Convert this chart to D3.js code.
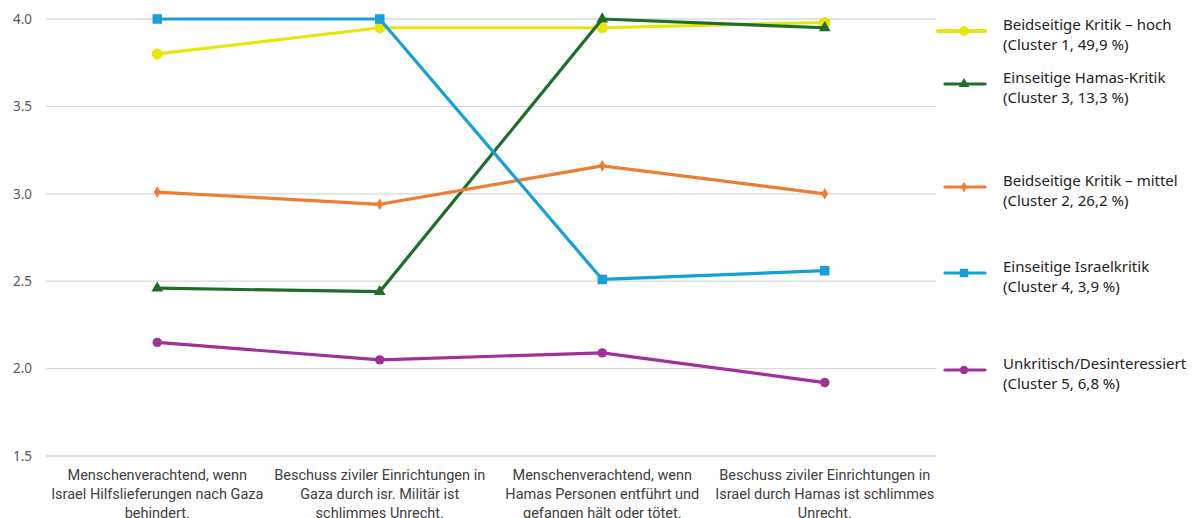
<!DOCTYPE html>
<html>
<head>
<meta charset="utf-8">
<script src="https://cdn.jsdelivr.net/npm/d3@7"></script>
<style>
  body { margin: 0; background: #fff; }
  svg { display: block; }
</style>
</head>
<body>
<svg id="chart" width="1196" height="518"></svg>
<script>
const categories = [
  ["Menschenverachtend, wenn", "Israel Hilfslieferungen nach Gaza", "behindert."],
  ["Beschuss ziviler Einrichtungen in", "Gaza durch isr. Militär ist", "schlimmes Unrecht."],
  ["Menschenverachtend, wenn", "Hamas Personen entführt und", "gefangen hält oder tötet."],
  ["Beschuss ziviler Einrichtungen in", "Israel durch Hamas ist schlimmes", "Unrecht."]
]

const seriesNames = [
  ["Beidseitige Kritik – hoch", "(Cluster 1, 49,9 %)"],
  ["Einseitige Hamas-Kritik", "(Cluster 3, 13,3 %)"],
  ["Beidseitige Kritik – mittel", "(Cluster 2, 26,2 %)"],
  ["Einseitige Israelkritik", "(Cluster 4, 3,9 %)"],
  ["Unkritisch/Desinteressiert", "(Cluster 5, 6,8 %)"]
]

const cluster1 = [3.80, 3.95, 3.95, 3.98]
const cluster3 = [2.46, 2.44, 4.00, 3.95]
const cluster2 = [3.01, 2.94, 3.16, 3.00]
const cluster4 = [4.00, 4.00, 2.51, 2.56]
const cluster5 = [2.15, 2.05, 2.09, 1.92]

const yTicks = [1.5, 2.0, 2.5, 3.0, 3.5, 4.0]

const series = [
  { name: seriesNames[0], values: cluster1, color: "#E6E60A", symbol: d3.symbolCircle, size: 95 },
  { name: seriesNames[1], values: cluster3, color: "#1E6E2A", symbol: d3.symbolTriangle, size: 60 },
  { name: seriesNames[2], values: cluster2, color: "#ED7D31", symbol: d3.symbolDiamond, size: 40 },
  { name: seriesNames[3], values: cluster4, color: "#16A0D8", symbol: d3.symbolSquare, size: 90 },
  { name: seriesNames[4], values: cluster5, color: "#A0309A", symbol: d3.symbolCircle, size: 70 }
]

// legend rows sit roughly next to the last point of each line
const legendY = [31, 84, 187, 273, 370]

const svg = d3.select('#chart')
const margin = { left: 46, right: 260, top: 19, bottom: 62 }
const w = 1196, h = 518

const x = d3.scaleBand()
  .domain(d3.range(categories.length))
  .range([margin.left, w - margin.right])

const y = d3.scaleLinear()
  .domain([1.5, 4.0])
  .range([h - margin.bottom, margin.top])

// grid
svg.append('g')
  .selectAll('line')
  .data(yTicks)
  .join('line')
    .attr('x1', margin.left)
    .attr('x2', w - margin.right)
    .attr('y1', d => y(d))
    .attr('y2', d => y(d))
    .attr('stroke', '#d9d9d9')
    .attr('stroke-width', 1.3)

// y axis labels
const yAxis = d3.axisLeft(y).tickValues(yTicks).tickFormat(d3.format('.1f')).tickSize(0).tickPadding(14)
svg.append('g')
  .attr('transform', `translate(${margin.left}, 0)`)
  .call(yAxis)
  .call(g => g.select('.domain').remove())
  .call(g => g.selectAll('text')
    .attr('fill', '#595959')
    .attr('font-family', 'Noto Sans, sans-serif')
    .attr('font-size', 13.5))

// x labels
const xl = svg.append('g')
  .selectAll('text')
  .data(categories)
  .join('text')
    .attr('x', (d, i) => x(i) + x.bandwidth() / 2)
    .attr('y', h - margin.bottom + 24)
    .attr('text-anchor', 'middle')
    .attr('fill', '#404040')
    .attr('font-family', 'Liberation Sans Narrow, Roboto, sans-serif')
    .attr('font-size', 14.5)
xl.selectAll('tspan')
  .data(d => d)
  .join('tspan')
    .attr('x', function() { return this.parentNode.getAttribute('x') })
    .attr('dy', (d, i) => i === 0 ? 0 : 19)
    .text(d => d)

const line = d3.line()
  .x((d, i) => x(i) + x.bandwidth() / 2)
  .y(d => y(d))

const lines = svg.append('g')
series.forEach(s => {
  const g = lines.append('g')
  g.append('path')
    .datum(s.values)
    .attr('d', line)
    .attr('fill', 'none')
    .attr('stroke', s.color)
    .attr('stroke-width', 3.2)
    .attr('stroke-linejoin', 'round')
  g.selectAll('path.pt')
    .data(s.values)
    .join('path')
      .attr('class', 'pt')
      .attr('transform', (d, i) => `translate(${x(i) + x.bandwidth() / 2}, ${y(d)})`)
      .attr('d', d3.symbol().type(s.symbol).size(s.size))
      .attr('fill', s.color)
})

// legend
const leg = svg.append('g')
  .selectAll('g')
  .data(series)
  .join('g')
    .attr('transform', (d, i) => `translate(0, ${legendY[i]})`)

leg.append('line')
  .attr('x1', (d, i) => i === 0 ? 938 : 945)
  .attr('x2', 985)
  .attr('stroke', d => d.color)
  .attr('stroke-width', (d, i) => i === 0 ? 4 : 3.2)
  .attr('stroke-linecap', 'round')

leg.append('path')
  .attr('transform', 'translate(964, 0)')
  .attr('d', d => d3.symbol().type(d.symbol).size(d.size * 0.8)())
  .attr('fill', d => d.color)

leg.append('text')
  .attr('x', 1003)
  .attr('y', -1)
  .attr('fill', '#222')
  .attr('font-family', 'Noto Sans, sans-serif')
  .attr('font-size', 15)
  .selectAll('tspan')
  .data(d => d.name)
  .join('tspan')
    .attr('x', 1003)
    .attr('dy', (d, i) => i === 0 ? 0 : 20)
    .text(d => d)
</script>
</body>
</html>
